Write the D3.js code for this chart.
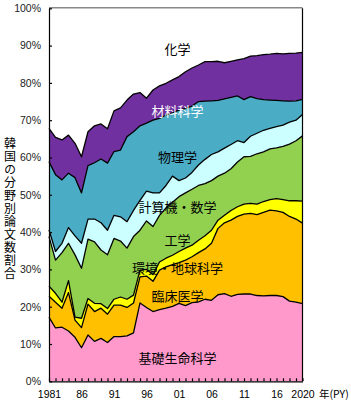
<!DOCTYPE html>
<html><head><meta charset="utf-8">
<script src="https://cdn.jsdelivr.net/npm/d3@7"></script>
<style>body{margin:0;background:#fff} svg{display:block}</style>
</head><body><svg id="c" width="351" height="410"></svg>
<script>
const years=[1981,1982,1983,1984,1985,1986,1987,1988,1989,1990,1991,1992,1993,1994,1995,1996,1997,1998,1999,2000,2001,2002,2003,2004,2005,2006,2007,2008,2009,2010,2011,2012,2013,2014,2015,2016,2017,2018,2019,2020];
const fields=["基礎生命科学","臨床医学","環境・地球科学","工学","計算機・数学","物理学","材料科学","化学"];
const lifeSci=[17.2,14.3,14.5,13.5,11.8,9.0,12.4,10.7,11.5,10.4,12.0,12.0,12.2,13.0,21.0,19.8,18.7,19.2,19.6,20.1,20.9,20.3,21.1,21.3,22.0,21.7,23.2,23.5,22.8,23.3,23.4,23.4,23.0,22.9,23.0,23.0,22.7,21.5,21.2,20.8];
const clinical=[5.6,6.9,5.1,10.3,4.6,5.4,8.3,8.0,8.1,7.6,8.4,8.4,7.6,8.0,7.0,8.4,8.1,10.6,11.1,11.2,10.9,12.2,12.3,13.2,13.5,15.3,17.8,19.0,20.4,20.9,21.4,21.6,21.7,22.4,22.9,22.7,22.6,22.7,22.3,21.6];
const envEarth=[2.7,2.4,1.6,3.2,0.8,2.5,1.5,2.2,1.2,1.5,1.6,2.2,2.2,2.1,1.8,1.8,1.8,2.2,2.3,2.5,3.0,3.2,3.1,3.3,3.5,3.5,2.2,2.0,2.6,2.6,2.7,2.7,2.8,2.9,2.8,3.3,3.4,4.2,4.9,5.9];
const engineering=[13.3,8.9,13.3,10.0,16.7,13.4,15.9,16.5,14.4,14.4,16.3,15.0,13.7,15.7,10.7,13.0,12.9,12.5,13.5,14.2,14.7,14.8,15.0,14.7,14.0,13.3,11.8,11.3,11.2,12.0,12.7,12.6,13.5,13.3,13.6,13.6,14.3,15.2,16.1,17.5];
const compMath=[1.8,2.3,2.5,4.2,5.1,6.7,5.4,6.1,7.3,6.6,6.2,6.5,7.1,7.0,8.0,8.0,9.0,6.0,6.0,7.0,4.3,4.0,4.5,5.5,6.5,7.0,6.5,6.7,6.5,5.7,3.8,5.4,5.5,5.8,5.5,5.7,5.7,5.9,5.5,5.7];
const physics=[18.3,20.6,17.0,14.6,15.6,13.5,14.3,15.1,17.1,18.0,17.1,17.9,22.8,21.1,20.0,18.2,19.5,20.0,18.9,17.0,18.9,18.7,17.8,17.0,15.6,14.4,13.8,13.2,12.6,12.0,11.5,10.6,9.3,8.2,7.6,7.0,6.5,5.6,5.2,4.1];
const materials=[8.9,10.0,10.7,10.2,9.2,9.7,9.1,9.9,9.4,9.2,10.9,11.3,9.8,10.1,8.9,6.7,8.1,8.7,8.5,8.8,9.0,9.8,10.2,9.8,10.6,10.5,10.5,9.7,9.7,9.7,11.0,10.9,11.5,12.1,12.3,12.6,12.6,12.8,12.8,12.6];
const chemistry=[32.2,34.6,35.3,34.0,36.2,39.8,33.1,31.5,31.0,32.3,27.5,26.7,24.6,23.0,22.6,24.1,21.9,20.8,20.1,19.2,18.3,17.0,16.0,15.2,14.3,14.3,14.2,14.6,14.2,13.8,13.5,12.8,12.7,12.4,12.3,12.1,12.2,12.1,12.0,11.8];
const yTicks=[0,10,20,30,40,50,60,70,80,90,100];
const xTickYears=[1981,1986,1991,1996,2001,2006,2011,2016,2020];
const xTickLabels=["1981","86","91","96","01","06","11","16","2020"];
const yTitle="韓国の分野別論文数割合";
const xUnit="年(PY)";

const seriesList=[lifeSci,clinical,envEarth,engineering,compMath,physics,materials,chemistry];
const colors=["#FF99CC","#FFC000","#FFFF00","#92D050","#CCFFFF","#4BACC6","#7030A0","#FFFFFF"];
const labelColors=["#000","#000","#000","#000","#000","#000","#fff","#000"];
const labelY=[357.5,295,267.5,239,206,156,110,48];

const rows=years.map((yr,i)=>{const r={year:yr};fields.forEach((f,k)=>r[f]=seriesList[k][i]);return r;});
const stacked=d3.stack().keys(fields)(rows);

const svg=d3.select("#c");
const L=49,R=302.5,T=8.3,B=381.3;
const x=d3.scaleLinear().domain([1981,2020]).range([L,R]);
const y=d3.scaleLinear().domain([0,100]).range([B,T]);

const area=d3.area().x(d=>x(d.data.year)).y0(d=>y(d[0])).y1(d=>y(d[1]));
const line=d3.line().x(d=>x(d.data.year)).y(d=>y(d[1]));

svg.append("g").selectAll("path").data(stacked).join("path")
  .attr("d",area).attr("fill",(d,i)=>colors[i]);
svg.append("g").selectAll("path").data(stacked.slice(0,-1)).join("path")
  .attr("d",line).attr("fill","none").attr("stroke","#000").attr("stroke-width",1.3).attr("stroke-linejoin","round");

// frame
svg.append("line").attr("x1",L).attr("x2",R).attr("y1",T-0.5).attr("y2",T-0.5).attr("stroke","#888").attr("stroke-width",1.5);
svg.append("line").attr("x1",R).attr("x2",R).attr("y1",T).attr("y2",B).attr("stroke","#000").attr("stroke-width",1.2);

const yAxis=d3.axisLeft(y).tickValues(yTicks).tickFormat(d=>d+"%").tickSizeInner(-3).tickSizeOuter(0).tickPadding(8);
const gy=svg.append("g").attr("transform",`translate(${L},0)`).call(yAxis);
gy.selectAll("text").attr("font-family","'Liberation Sans',Arial,sans-serif").attr("font-size","10.5px").attr("fill","#222");
gy.selectAll("line,path").attr("stroke","#000").attr("stroke-width",1.2);

const xAxis=d3.axisBottom(x).tickValues(years).tickSizeInner(-3).tickSizeOuter(0).tickPadding(9)
  .tickFormat(d=>{const k=xTickYears.indexOf(d);return k>=0?xTickLabels[k]:"";});
const gx=svg.append("g").attr("transform",`translate(0,${B})`).call(xAxis);
gx.selectAll("text").attr("font-family","'Liberation Sans',Arial,sans-serif").attr("font-size","10.5px").attr("fill","#000");
gx.selectAll("line,path").attr("stroke","#000").attr("stroke-width",1.2);

svg.append("text").attr("x",319).attr("y",B+9+7.5).attr("font-family","'Noto Sans CJK JP',sans-serif").attr("font-size","10.5px").text(xUnit);

// category labels
svg.append("g").selectAll("text").data(fields).join("text")
  .attr("x",177.5).attr("y",(d,i)=>labelY[i]).attr("text-anchor","middle").attr("dominant-baseline","central")
  .attr("font-family","'Noto Sans CJK JP',sans-serif").attr("font-size","13px").attr("fill",(d,i)=>labelColors[i]).text(d=>d);

// vertical y title
svg.append("text").attr("x",10).attr("y",137)
  .style("writing-mode","vertical-rl").style("text-orientation","upright").style("letter-spacing","1px")
  .attr("font-family","'Noto Sans CJK JP',sans-serif").attr("font-size","12px").attr("fill","#000").text(yTitle);
</script></body></html>
